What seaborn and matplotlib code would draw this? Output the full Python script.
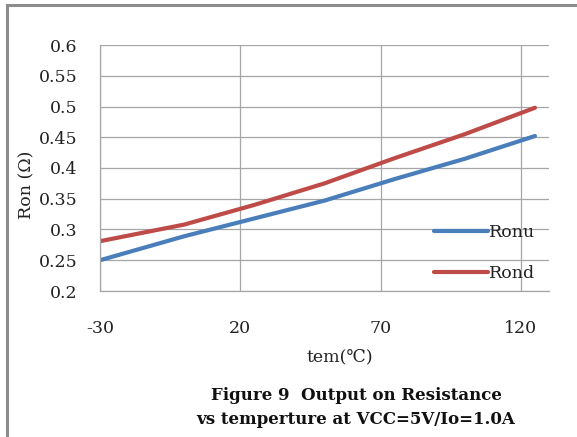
import matplotlib
matplotlib.use("Agg")
import matplotlib.pyplot as plt
import seaborn as sns
import pandas as pd

# Temperature sweep and measured on-resistance
temperature = [-30, 0, 25, 50, 75, 100, 125]
ronu = [0.250, 0.289, 0.318, 0.347, 0.382, 0.415, 0.452]
rond = [0.281, 0.308, 0.340, 0.375, 0.416, 0.455, 0.498]
x_ticks = [-30, 20, 70, 120]
x_tick_labels = ["-30", "20", "70", "120"]
y_ticks = [0.2, 0.25, 0.3, 0.35, 0.4, 0.45, 0.5, 0.55, 0.6]
y_tick_labels = ["0.2", "0.25", "0.3", "0.35", "0.4", "0.45", "0.5", "0.55", "0.6"]

df = pd.DataFrame({
    "tem": temperature * 2,
    "Ron": ronu + rond,
    "series": ["Ronu"] * len(ronu) + ["Rond"] * len(rond),
})

sns.set_theme(style="white")
plt.rcParams["font.family"] = ["DejaVu Serif", "DejaVu Sans"]

fig = plt.figure(figsize=(5.77, 4.37), dpi=100)
ax = fig.add_axes([100 / 577, 1 - 291 / 437, (549 - 100) / 577, (291 - 45) / 437])

sns.lineplot(data=df, x="tem", y="Ron", hue="series",
             palette={"Ronu": "#4a7ebb", "Rond": "#be4b48"},
             linewidth=3.0, ax=ax, legend=True)

ax.set_xlim(-30, 130)
ax.set_ylim(0.2, 0.6)
ax.set_xticks(x_ticks)
ax.set_xticklabels(x_tick_labels)
ax.set_yticks(y_ticks)
ax.set_yticklabels(y_tick_labels)
ax.tick_params(axis="both", length=0, labelsize=12.5, colors="#222222")
ax.tick_params(axis="x", pad=21)
ax.tick_params(axis="y", pad=16)
ax.grid(True, color="#a6a6a6", linewidth=0.9)
ax.set_axisbelow(True)
for side in ["top", "right"]:
    ax.spines[side].set_visible(False)
for side in ["left", "bottom"]:
    ax.spines[side].set_color("#a6a6a6")
    ax.spines[side].set_linewidth(0.9)

ax.set_xlabel("tem(℃)", fontsize=12.5, color="#222222")
ax.set_ylabel("Ron (Ω)", fontsize=12.5, color="#222222")
ax.yaxis.set_label_coords(-0.145, 0.43)
ax.xaxis.set_label_coords(0.535, -0.235)

leg = ax.legend(loc="center left", bbox_to_anchor=(0.728, 0.155), frameon=False,
                fontsize=12.5, handlelength=3.1, handletextpad=0.05,
                labelspacing=1.4, borderaxespad=0)
for t in leg.get_texts():
    t.set_color("#222222")

fig.text(356 / 577, 1 - 395 / 437, "Figure 9  Output on Resistance",
         ha="center", va="center", fontsize=12, fontweight="bold", color="#111111")
fig.text(356 / 577, 1 - 420 / 437, "vs temperture at VCC=5V/Io=1.0A",
         ha="center", va="center", fontsize=12, fontweight="bold", color="#111111")

# Outer chart frame
frame = plt.Rectangle((7 / 577, -0.01), 1.0, 1 - 5 / 437 + 0.01,
                      transform=fig.transFigure, fill=False,
                      edgecolor="#8c8c8c", linewidth=2.2)
fig.patches.append(frame)

fig.savefig("out.png", dpi=100)
